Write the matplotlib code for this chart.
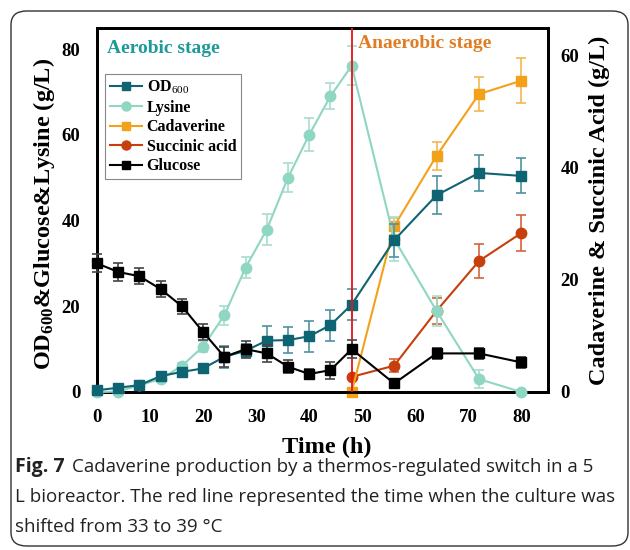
import matplotlib
matplotlib.use("Agg")
import matplotlib.pyplot as plt
from matplotlib.patches import FancyBboxPatch
from matplotlib.lines import Line2D

serif = "Liberation Serif"
plt.rcParams["mathtext.fontset"] = "custom"
plt.rcParams["mathtext.rm"] = serif
plt.rcParams["mathtext.it"] = serif + ":italic:bold"
plt.rcParams["mathtext.bf"] = serif + ":bold"

# Sampling times (h)
time_aer = [0, 4, 8, 12, 16, 20, 24, 28, 32, 36, 40, 44, 48, 56, 64, 72, 80]
time_ana = [48, 56, 64, 72, 80]

# Left axis series (g/L or OD)
od600 = [0.4, 1.0, 1.6, 3.7, 4.7, 5.5, 8.2, 9.6, 12.0, 12.1, 13.0, 15.6, 20.4, 35.4, 45.9, 51.1, 50.4]
od600_err = [0.3, 0.4, 0.5, 0.6, 0.6, 0.7, 2.5, 1.5, 3.4, 3.1, 3.6, 3.6, 3.7, 3.8, 4.4, 4.2, 4.1]
lysine = [0.0, 0.1, 1.6, 3.0, 6.1, 10.6, 17.9, 29.0, 37.9, 50.0, 60.0, 69.0, 76.1, 35.7, 18.9, 3.0, 0.0]
lysine_err = [0.2, 0.2, 0.4, 0.5, 0.6, 1.2, 2.2, 2.4, 3.6, 3.4, 3.9, 3.0, 4.5, 5.1, 3.4, 2.1, 0.3]
glucose = [30.0, 28.0, 27.0, 24.0, 20.0, 14.0, 8.2, 10.0, 9.0, 5.9, 4.2, 5.1, 10.0, 2.0, 9.0, 9.0, 6.9]
glucose_err = [2.1, 2.0, 1.9, 1.9, 1.8, 1.9, 2.4, 2.0, 1.9, 1.5, 1.1, 2.0, 2.1, 1.0, 1.2, 1.2, 1.2]

# Right axis series (g/L)
cadaverine = [0.0, 29.6, 42.2, 53.2, 55.6]
cadaverine_err = [0.3, 1.5, 2.5, 3.1, 4.0]
succinic = [2.7, 4.7, 14.5, 23.4, 28.4]
succinic_err = [0.2, 1.2, 2.3, 3.0, 3.2]

shift_time = 48

c_od = "#0f6474"
c_od_err = "#4f93a0"
c_lys = "#8fd6c3"
c_lys_err = "#a7dfd0"
c_cad = "#f4a11a"
c_cad_err = "#f6b650"
c_suc = "#c73f0c"
c_suc_err = "#d6653d"
c_glu = "#000000"
c_glu_err = "#444444"

fig = plt.figure(figsize=(6.3, 5.5), dpi=100)

# Rounded figure frame
frame = FancyBboxPatch((11 / 630, 4 / 550), 617 / 630, 535 / 550,
                       boxstyle="round,pad=0,rounding_size=0.025",
                       transform=fig.transFigure, fill=False,
                       edgecolor="#333333", linewidth=1.0)
fig.patches.append(frame)

ax = fig.add_axes([97 / 630, 1 - 392 / 550, 451 / 630, 364 / 550])
ax2 = ax.twinx()

ms = 7
lw = 1.5
cs = 3.5

def series(a, x, y, e, color, ecolor, marker, z, msize=ms):
    a.errorbar(x, y, yerr=e, color=color, ecolor=ecolor, marker=marker,
               markersize=msize, linewidth=lw, elinewidth=1.2, capsize=cs,
               capthick=1.2, zorder=z, clip_on=False)

series(ax, time_aer, lysine, lysine_err, c_lys, c_lys_err, "o", 3, 7.5)
series(ax, time_aer, od600, od600_err, c_od, c_od_err, "s", 4)
ax.axvline(shift_time, color="#e8141c", linewidth=1.3, zorder=5)
series(ax, time_aer, glucose, glucose_err, c_glu, c_glu_err, "s", 6)

series(ax2, time_ana, succinic, succinic_err, c_suc, c_suc_err, "o", 3, 7.5)
series(ax2, time_ana, cadaverine, cadaverine_err, c_cad, c_cad_err, "s", 4)

ax.set_zorder(ax2.get_zorder() + 1)
ax.patch.set_visible(False)

ax.set_xlim(0, 85)
ax.set_ylim(0, 84.9)
ax2.set_ylim(0, 65)
ax.set_xticks([0, 10, 20, 30, 40, 50, 60, 70, 80])
ax.set_yticks([0, 20, 40, 60, 80])
ax2.set_yticks([0, 20, 40, 60])

for a in (ax, ax2):
    a.tick_params(length=0)
    for lab in a.get_xticklabels() + a.get_yticklabels():
        lab.set_fontfamily(serif)
        lab.set_fontweight("bold")
        lab.set_fontsize(13.5)
    for sp in a.spines.values():
        sp.set_linewidth(2.0)

ax.tick_params(axis="x", pad=12)
ax.tick_params(axis="y", pad=12)
ax2.tick_params(axis="y", pad=9)

ax.set_xlabel("Time (h)", fontfamily=serif, fontweight="bold", fontsize=17.5)
ax.xaxis.set_label_coords(0.51, -0.122)
ax.set_ylabel("OD$_{\\mathbf{600}}$&Glucose&Lysine (g/L)", fontfamily=serif,
              fontweight="bold", fontsize=17.5)
ax.yaxis.set_label_coords(-0.088, 0.49)
ax2.set_ylabel("Cadaverine & Succinic Acid (g/L)", fontfamily=serif,
               fontweight="bold", fontsize=17.5)
ax2.yaxis.set_label_coords(1.09, 0.5)

ax.text(0.022, 0.945, "Aerobic stage", transform=ax.transAxes, color="#1c9a98",
        fontfamily=serif, fontweight="bold", fontsize=14, va="center", ha="left")
ax.text(49.2, 81.4, "Anaerobic stage", color="#e07c22", fontfamily=serif,
        fontweight="bold", fontsize=14, va="center", ha="left")

handles = [
    Line2D([], [], color=c_od, marker="s", markersize=6, linewidth=lw),
    Line2D([], [], color=c_lys, marker="o", markersize=6.5, linewidth=lw),
    Line2D([], [], color=c_cad, marker="s", markersize=6, linewidth=lw),
    Line2D([], [], color=c_suc, marker="o", markersize=6.5, linewidth=lw),
    Line2D([], [], color=c_glu, marker="s", markersize=6, linewidth=lw),
]
labels = ["OD$_{\\mathit{600}}$", "Lysine", "Cadaverine", "Succinic acid", "Glucose"]
leg = ax.legend(handles, labels, loc="upper left", bbox_to_anchor=(0.018, 0.873),
                prop=dict(family=serif, weight="bold", size=11.5), frameon=True,
                fancybox=False, edgecolor="#888888", framealpha=1,
                handlelength=2.0, handletextpad=0.3, labelspacing=0.22,
                borderpad=0.3, borderaxespad=0)
leg.get_frame().set_linewidth(0.8)

# Caption
cap_font = "Open Sans"
fig.text(15 / 630, 1 - 467 / 550, "Fig. 7", fontfamily=cap_font, fontweight="bold",
         fontsize=14, va="center", ha="left", color="#222222")
fig.text(72 / 630, 1 - 467 / 550, "Cadaverine production by a thermos-regulated switch in a 5",
         fontfamily=cap_font, fontsize=13.5, va="center", ha="left", color="#222222")
fig.text(15 / 630, 1 - 497 / 550, "L bioreactor. The red line represented the time when the culture was",
         fontfamily=cap_font, fontsize=13.5, va="center", ha="left", color="#222222")
fig.text(15 / 630, 1 - 527 / 550, "shifted from 33 to 39 \u00b0C",
         fontfamily=cap_font, fontsize=13.5, va="center", ha="left", color="#222222")

fig.savefig("out.png", dpi=100)
